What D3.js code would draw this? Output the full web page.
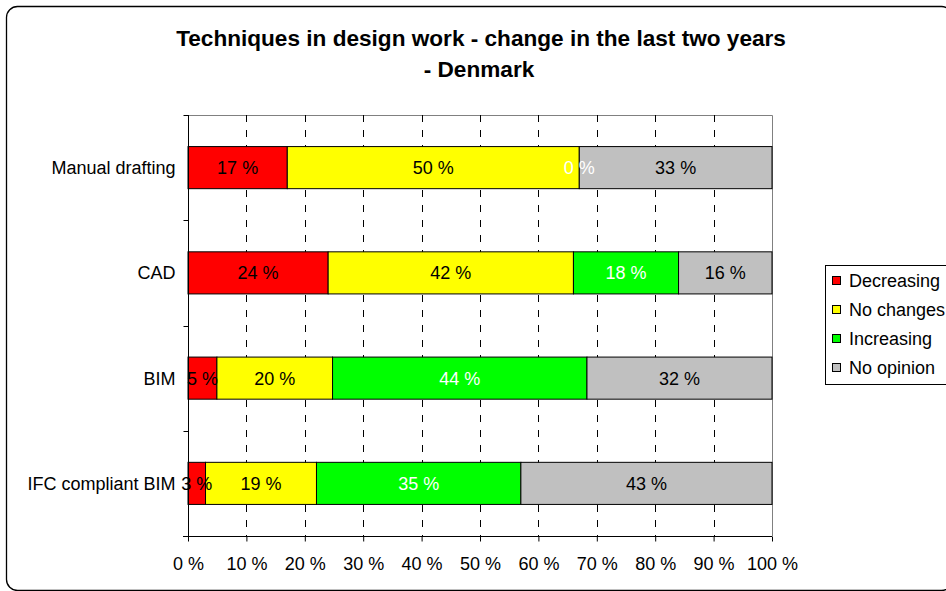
<!DOCTYPE html>
<html>
<head>
<meta charset="utf-8">
<script src="https://cdn.jsdelivr.net/npm/d3@7"></script>
<style>
  html, body { margin: 0; padding: 0; background: #fff; }
  svg { display: block; font-family: "Liberation Sans", Arial, sans-serif; }
</style>
</head>
<body>
<svg id="chart" width="946" height="591"></svg>
<script>
// Survey answers per technique (percent of respondents)
const categories = ["Manual drafting", "CAD", "BIM", "IFC compliant BIM"];
const seriesNames = ["Decreasing", "No changes", "Increasing", "No opinion"];
const decreasing = [17, 24, 5, 3];
const noChanges  = [50, 42, 20, 19];
const increasing = [0, 18, 44, 35];
const noOpinion  = [33, 16, 32, 43];
const xTicks = [0, 10, 20, 30, 40, 50, 60, 70, 80, 90, 100];

const seriesColors = ["#ff0000", "#ffff00", "#00ff00", "#c0c0c0"];
const labelColors  = ["#000", "#000", "#fff", "#000"];

const rows = categories.map((c, i) => ({
  category: c,
  "Decreasing": decreasing[i],
  "No changes": noChanges[i],
  "Increasing": increasing[i],
  "No opinion": noOpinion[i]
}));

const svg = d3.select("#chart");
const fontSize = 18;

// Outer chart frame
svg.append("rect")
  .attr("x", 6.5).attr("y", 6.5)
  .attr("width", 946).attr("height", 584)
  .attr("rx", 11).attr("ry", 11)
  .attr("fill", "#fff").attr("stroke", "#000").attr("stroke-width", 1.3);

// Title
const title = svg.append("text")
  .attr("text-anchor", "middle")
  .attr("font-weight", "bold")
  .attr("font-size", 22.6)
  .attr("fill", "#000");
title.append("tspan").attr("x", 481).attr("y", 46)
  .text("Techniques in design work - change in the last two years");
title.append("tspan").attr("x", 479).attr("y", 77)
  .text("- Denmark");

const plot = { left: 188, right: 772, top: 115, bottom: 536 };

const x = d3.scaleLinear().domain([0, 1]).range([plot.left, plot.right]);
const y = d3.scaleBand().domain(categories)
  .range([plot.top, plot.bottom])
  .paddingInner(0.6).paddingOuter(0.3);

// 100% stacked layout
const stacked = d3.stack().keys(seriesNames).offset(d3.stackOffsetExpand)(rows);

// Plot area border (top and right)
svg.append("path")
  .attr("d", `M${plot.left},${plot.top + 0.5}H${plot.right + 0.5}V${plot.bottom}`)
  .attr("fill", "none").attr("stroke", "#808080").attr("stroke-width", 1);

// Dashed vertical gridlines
svg.append("g")
  .selectAll("line")
  .data(xTicks.filter(t => t > 0 && t < 100))
  .join("line")
  .attr("x1", d => Math.round(x(d / 100)) + 0.5)
  .attr("x2", d => Math.round(x(d / 100)) + 0.5)
  .attr("y1", plot.top).attr("y2", plot.bottom)
  .attr("stroke", "#000").attr("stroke-width", 1)
  .attr("stroke-dasharray", "7,8");

// Bars
const layer = svg.append("g").selectAll("g")
  .data(stacked)
  .join("g")
  .attr("fill", (d, i) => seriesColors[i]);

layer.selectAll("rect")
  .data(d => d)
  .join("rect")
  .attr("x", d => x(d[0]))
  .attr("y", d => y(d.data.category))
  .attr("width", d => x(d[1]) - x(d[0]))
  .attr("height", y.bandwidth())
  .attr("stroke", "#000").attr("stroke-width", 1);

// Segment value labels
svg.append("g").selectAll("g")
  .data(stacked)
  .join("g")
  .attr("fill", (d, i) => labelColors[i])
  .selectAll("text")
  .data(d => d.map(seg => ({ seg, key: d.key })))
  .join("text")
  .attr("x", d => (x(d.seg[0]) + x(d.seg[1])) / 2)
  .attr("y", d => y(d.seg.data.category) + y.bandwidth() / 2)
  .attr("dy", "0.36em")
  .attr("text-anchor", "middle")
  .attr("font-size", fontSize)
  .text(d => `${d.seg.data[d.key]} %`);

// Y axis
const yAxis = svg.append("g")
  .attr("transform", `translate(${plot.left + 0.5},0)`);
yAxis.append("line")
  .attr("y1", plot.top).attr("y2", plot.bottom + 0.5)
  .attr("stroke", "#000");
const boundaries = d3.range(categories.length + 1).map(i => plot.top + i * y.step());
yAxis.selectAll("line.tick")
  .data(boundaries)
  .join("line").attr("class", "tick")
  .attr("x1", -5).attr("x2", 0)
  .attr("y1", d => Math.round(d) + 0.5).attr("y2", d => Math.round(d) + 0.5)
  .attr("stroke", "#000");
yAxis.selectAll("text")
  .data(categories)
  .join("text")
  .attr("x", -13)
  .attr("y", d => y(d) + y.bandwidth() / 2)
  .attr("dy", "0.36em")
  .attr("text-anchor", "end")
  .attr("font-size", fontSize)
  .attr("fill", "#000")
  .text(d => d);

// X axis
const xAxis = svg.append("g")
  .attr("transform", `translate(0,${plot.bottom + 0.5})`)
  .call(d3.axisBottom(x)
    .tickValues(xTicks.map(t => t / 100))
    .tickSize(5)
    .tickSizeOuter(0)
    .tickFormat(d => `${Math.round(d * 100)} %`));
xAxis.select(".domain").attr("stroke", "#000").attr("d", `M${plot.left - 5},0H${plot.right}`);
xAxis.selectAll(".tick line").attr("stroke", "#000");
xAxis.selectAll(".tick text")
  .attr("font-family", "Liberation Sans, Arial, sans-serif")
  .attr("font-size", fontSize)
  .attr("fill", "#000")
  .attr("y", 21);

// Legend
const legend = svg.append("g").attr("transform", "translate(825,265)");
legend.append("rect")
  .attr("x", 0.5).attr("y", 0.5).attr("width", 125).attr("height", 119)
  .attr("fill", "#fff").attr("stroke", "#000");
const item = legend.selectAll("g.item")
  .data(seriesNames)
  .join("g").attr("class", "item")
  .attr("transform", (d, i) => `translate(7,${16 + i * 29})`);
item.append("rect")
  .attr("x", 0.5).attr("y", -4.5).attr("width", 8).attr("height", 8)
  .attr("fill", (d, i) => seriesColors[i])
  .attr("stroke", "#000");
item.append("text")
  .attr("x", 17).attr("dy", "0.36em")
  .attr("font-size", fontSize)
  .attr("fill", "#000")
  .text(d => d);
</script>
</body>
</html>
